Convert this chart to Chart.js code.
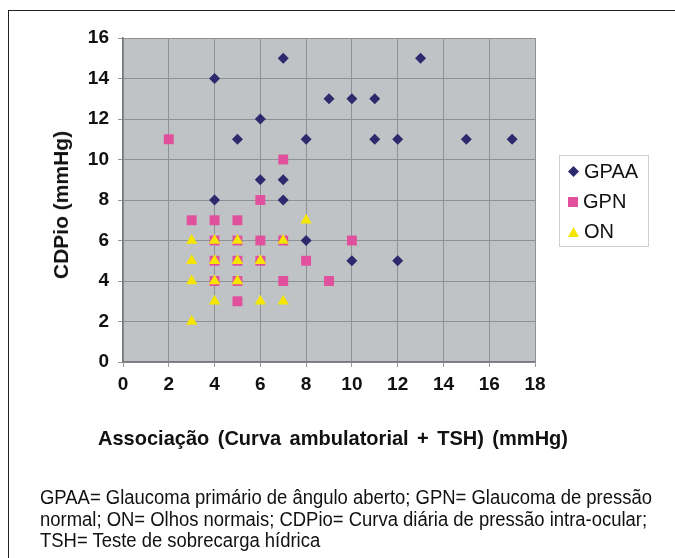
<!DOCTYPE html>
<html>
<head>
<meta charset="utf-8">
<script src="https://cdn.jsdelivr.net/npm/chart.js@4/dist/chart.umd.min.js"></script>
<style>
  html, body { margin: 0; padding: 0; background: #fff; }
  #wrap { position: relative; width: 675px; height: 558px; overflow: hidden; font-family: "Liberation Sans", Arial, sans-serif; }
  #frame { position: absolute; left: 8px; top: 10px; width: 700px; height: 600px; border-left: 1.5px solid #222; border-top: 1.5px solid #222; }
  canvas { position: absolute; left: 0; top: 0; }
  #ytitle { position: absolute; left: 61px; top: 205px; transform: translate(-50%, -50%) rotate(-90deg); font-weight: bold; font-size: 21px; white-space: nowrap; color: #111; }
  #xtitle { position: absolute; left: 98px; top: 426px; font-weight: bold; font-size: 21px; white-space: nowrap; color: #111; word-spacing: 3px; transform-origin: 0 0; }
  #legend { position: absolute; left: 559px; top: 155px; width: 90px; height: 92px; border: 1px solid #cfcfcf; box-sizing: border-box; }
  .item { position: absolute; left: 8px; font-size: 20px; color: #111; white-space: nowrap; }
  .mk { display: inline-block; vertical-align: middle; margin-right: 5px; }
  #caption { position: absolute; left: 40px; top: 487px; font-size: 20px; line-height: 21.5px; color: #111; white-space: nowrap; transform-origin: 0 0; }
</style>
</head>
<body>
<div id="wrap">
  <div id="frame"></div>
  <canvas id="chart" width="675" height="558"></canvas>
  <div id="ytitle">CDPio (mmHg)</div>
  <div id="xtitle">Associação (Curva ambulatorial + TSH) (mmHg)</div>
  <div id="legend"></div>
  <div id="caption"><span id="cap1">GPAA= Glaucoma primário de ângulo aberto; GPN= Glaucoma de pressão</span><br>normal; ON= Olhos normais; CDPio= Curva diária de pressão intra-ocular;<br>TSH= Teste de sobrecarga hídrica</div>
</div>
<script>
// --- dados ---
const seriesNames = ['GPAA', 'GPN', 'ON'];

const gpaaX = [4, 7, 13, 9, 10, 11, 6, 5, 8, 11, 12, 15, 17, 6, 7, 4, 7, 8, 10, 12];
const gpaaY = [14, 15, 15, 13, 13, 13, 12, 11, 11, 11, 11, 11, 11, 9, 9, 8, 8, 6, 5, 5];

const gpnX = [2, 7, 6, 3, 4, 5, 4, 5, 6, 7, 10, 4, 5, 6, 8, 4, 5, 7, 9, 5];
const gpnY = [11, 10, 8, 7, 7, 7, 6, 6, 6, 6, 6, 5, 5, 5, 5, 4, 4, 4, 4, 3];

const onX = [8, 3, 4, 5, 7, 3, 4, 5, 6, 3, 4, 5, 4, 6, 7, 3];
const onY = [7, 6, 6, 6, 6, 5, 5, 5, 5, 4, 4, 4, 3, 3, 3, 2];

const xTicks = [0, 2, 4, 6, 8, 10, 12, 14, 16, 18];
const yTicks = [0, 2, 4, 6, 8, 10, 12, 14, 16];

const toPoints = (xs, ys) => xs.map((x, i) => ({ x, y: ys[i] }));

const colors = { GPAA: '#2c2a6c', GPN: '#e0509c', ON: '#f4e600' };
const styles = { GPAA: ['rectRot', 5.5], GPN: ['rect', 7], ON: ['triangle', 6.5] };

// fundo cinza da área do gráfico
const plotBg = {
    id: 'plotBg',
    beforeDraw(chart) {
        const { ctx, chartArea: a } = chart;
        ctx.save();
        ctx.fillStyle = '#bfc3c6';
        ctx.fillRect(a.left, a.top, a.right - a.left, a.bottom - a.top);
        ctx.restore();
    }
};

const tickFont = { family: '"Liberation Sans", Arial, sans-serif', size: 19, weight: 'bold' };

new Chart(document.getElementById('chart'), {
    type: 'scatter',
    data: {
        datasets: [
            { label: 'GPAA', data: toPoints(gpaaX, gpaaY), order: 2 },
            { label: 'GPN', data: toPoints(gpnX, gpnY), order: 1 },
            { label: 'ON', data: toPoints(onX, onY), order: 0 }
        ].map(ds => ({
            ...ds,
            pointStyle: styles[ds.label][0],
            pointRadius: styles[ds.label][1],
            pointHoverRadius: styles[ds.label][1],
            backgroundColor: colors[ds.label],
            borderColor: colors[ds.label],
            borderWidth: 0
        }))
    },
    options: {
        responsive: false,
        animation: false,
        layout: { padding: { left: 0, top: 38, right: 140, bottom: 0 } },
        plugins: { legend: { display: false }, tooltip: { enabled: false } },
        scales: {
            x: {
                type: 'linear', min: xTicks[0], max: xTicks[xTicks.length - 1],
                afterBuildTicks: s => { s.ticks = xTicks.map(v => ({ value: v })); },
                afterFit: s => { s.height = 196; },
                ticks: { font: tickFont, color: '#111', padding: 6 },
                grid: { color: '#8e9296', lineWidth: 1, tickLength: 5, tickColor: '#9a9a9a' },
                border: { color: '#777b7f', width: 1.5 }
            },
            y: {
                type: 'linear', min: yTicks[0], max: yTicks[yTicks.length - 1],
                afterBuildTicks: s => { s.ticks = yTicks.map(v => ({ value: v })); },
                afterFit: s => { s.width = 123; },
                ticks: { font: tickFont, color: '#111', padding: 9 },
                grid: { color: '#8e9296', lineWidth: 1, tickLength: 5, tickColor: '#9a9a9a' },
                border: { color: '#777b7f', width: 1.5 }
            }
        }
    },
    plugins: [plotBg]
});

// ajusta a largura dos textos (fonte estreita no original)
const fitWidth = (el, measureEl, target) => {
    const w = measureEl.getBoundingClientRect().width;
    el.style.transform = `scaleX(${target / w})`;
};
fitWidth(document.getElementById('xtitle'), document.getElementById('xtitle'), 470);
fitWidth(document.getElementById('caption'), document.getElementById('cap1'), 612);

// legenda em HTML
const legend = document.getElementById('legend');
const markerSvg = {
    GPAA: '<svg class="mk" width="11" height="11"><polygon points="5.5,0 11,5.5 5.5,11 0,5.5" fill="' + colors.GPAA + '"/></svg>',
    GPN: '<svg class="mk" width="10" height="10"><rect width="10" height="10" fill="' + colors.GPN + '"/></svg>',
    ON: '<svg class="mk" width="11" height="10"><polygon points="5.5,0 11,10 0,10" fill="' + colors.ON + '"/></svg>'
};
seriesNames.forEach((name, i) => {
    const el = document.createElement('div');
    el.className = 'item';
    el.style.top = (3 + i * 30) + 'px';
    el.innerHTML = markerSvg[name] + '<span style="vertical-align:middle">' + name + '</span>';
    legend.appendChild(el);
});
</script>
</body>
</html>
